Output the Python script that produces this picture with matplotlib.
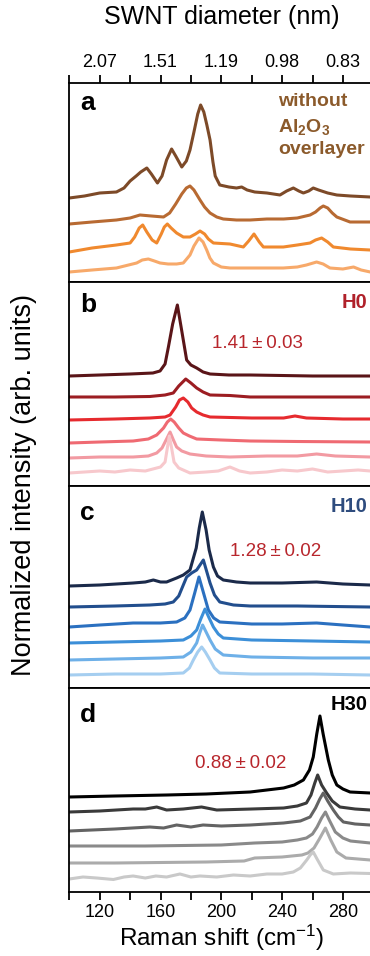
import matplotlib
matplotlib.use("Agg")
import matplotlib.pyplot as plt

plt.rcParams['font.family'] = ['Liberation Sans', 'DejaVu Sans']
plt.rcParams['mathtext.fontset'] = 'custom'
plt.rcParams['mathtext.rm'] = 'Liberation Sans'
plt.rcParams['mathtext.bf'] = 'Liberation Sans:bold'
plt.rcParams['mathtext.it'] = 'Liberation Sans:italic'

# ---- panel a : without Al2O3 overlayer (top curve first) ----
a1_x = [100, 110, 120, 131, 136, 140, 144, 147, 151, 154, 158, 161, 164, 167.3, 170, 174, 177, 179.4, 182, 184.5,
        186.4, 188.5, 190.5, 192.6, 194.5, 196, 199, 205, 210, 213.4, 217, 222, 230, 238.6, 243, 247.4, 251, 254,
        257.5, 260.5, 264, 270, 276, 285, 298]
a1_y = [84, 86, 89, 90, 94, 101, 106, 110, 114, 108, 99, 106, 122, 133, 126, 115, 121, 132, 150, 168,
        177, 170, 157, 142, 120, 106, 97, 95, 94, 95, 92, 90, 89, 87, 91, 94, 91, 89,
        91, 94, 92, 89, 87, 86, 85]
a2_x = [100, 115, 131, 140, 146.5, 154, 162, 166, 170, 174, 177, 179.4, 182, 186, 189, 192.6, 197, 201.3, 210, 219,
        230, 241, 250, 258.4, 262, 265, 267.1, 270, 273, 276, 284.7, 298]
a2_y = [58, 60, 62, 64, 67, 66, 65, 69, 78, 88, 94, 96, 92, 82, 75, 69, 65, 63, 62, 62,
        63, 63, 64, 67, 70, 74, 76, 74, 69, 65, 60, 60]
a3_x = [100, 115, 131, 140, 143, 146, 148.3, 151, 154.5, 157.5, 160.5, 162.5, 164.5, 167, 170.6, 175, 179.4, 183,
        186, 189, 191.5, 194.8, 205.7, 214.5, 218, 221.5, 225, 227.7, 240.8, 250, 258.4, 262, 266, 270, 273.7,
        285, 298]
a3_y = [30, 34, 37, 39, 45, 54, 57, 50, 42, 39, 48, 55, 58, 54, 49, 45, 45, 48,
        51, 48, 43, 39, 38, 35, 41, 48, 40, 35, 35, 37, 39, 42, 44, 40, 35,
        33, 32]
a4_x = [100, 115, 131, 144.3, 148, 152, 156, 159.7, 165, 170.6, 175, 179.4, 182, 185.3, 188, 190.4, 192.5, 194.8,
        200, 205.7, 220, 240.8, 250, 256, 262.7, 267, 271.5, 280, 287, 292, 298]
a4_y = [10, 12, 14, 19, 22, 23, 21, 19, 18, 18, 19, 27, 36, 44, 40, 32, 24, 19,
        15, 14, 14, 14, 15, 17, 20, 18, 14, 13, 15, 12, 10]

# ---- panel b : H0 ----
b1_x = [100, 120, 140, 155, 159.7, 163, 165.2, 168, 171.1, 174, 177.2, 180, 183.8, 188, 192.6, 205, 219, 240, 260,
        280, 298]
b1_y = [110, 111, 112, 113, 115, 122, 139, 162, 181, 155, 126, 121, 118, 114, 112, 111, 111, 110.5, 110,
        110, 110]
b2_x = [100, 130, 153, 163, 168.4, 172, 176.6, 180, 183.8, 188, 192.6, 205.7, 219, 250, 298]
b2_y = [89, 89, 89.5, 91, 93, 100, 107, 103, 98, 94, 91, 90.5, 89, 89, 89]
b3_x = [100, 130, 153, 163, 166.3, 170, 172.5, 175, 178, 180.5, 183.8, 188, 192.6, 220, 241, 248.5, 256, 280, 298]
b3_y = [66, 67, 68, 69, 71, 79, 86, 88, 84, 78, 74, 71, 69, 68, 68, 70, 68, 67, 67]
b4_x = [100, 120, 142, 152, 157.5, 162, 164.5, 166.7, 169, 172, 175, 179, 183.8, 200, 219, 250, 298]
b4_y = [43, 44, 45, 47, 51, 58, 64, 67, 64, 58, 53, 50, 47, 46, 45, 44.5, 44]
b5_x = [100, 120, 142, 152, 157.5, 161, 164, 166.3, 168.5, 170.6, 174, 179.4, 190, 205.7, 230, 250, 262.7, 275, 298]
b5_y = [28, 29, 29, 30, 33, 38, 47, 54, 46, 39, 35, 32, 30, 29, 30, 30, 32, 30, 29]
b6_x = [100, 110, 120, 130, 140, 150, 155, 160, 163, 164.5, 165.8, 167.3, 168.9, 172, 179.4, 190, 198, 205.7,
        212, 219, 230, 240, 250, 260, 270, 280, 290, 298]
b6_y = [13, 14, 15, 14, 16, 15, 17, 19, 24, 38, 50, 38, 24, 18, 13, 14, 15, 19,
        15, 13, 14, 16, 15, 17, 14, 15, 16, 15]

# ---- panel c : H10 ----
c1_x = [100, 120, 142, 150, 155.3, 160, 164, 170.6, 175, 179.4, 183.5, 185.5, 187.5, 190, 192, 194.8, 197.5, 201.3,
        210, 219, 240, 262.7, 280, 298]
c1_y = [102, 103, 105, 106, 108, 106, 106, 110, 113, 118, 140, 160, 176, 158, 138, 121, 112, 108,
        106, 105, 105, 106, 104, 103]
c2_x = [100, 130, 153, 163, 168.4, 172, 175, 177.2, 180.5, 183.8, 186, 188.2, 190.5, 192.6, 195.5, 199, 208, 219,
        250, 298]
c2_y = [81, 82, 83, 84, 86, 92, 103, 111, 115, 118, 123, 128, 116, 105, 93, 86, 83, 82, 82, 81]
c3_x = [100, 120, 142, 160, 170.6, 176, 179.4, 182.5, 185.3, 188.5, 191.5, 195, 199, 220, 240, 262.7, 280, 298]
c3_y = [61, 63, 65, 65, 66, 70, 78, 95, 111, 94, 78, 70, 66, 64, 64, 65, 63, 61]
c4_x = [100, 130, 160, 175, 180, 183.8, 186.5, 189.3, 192, 194.8, 198, 201.3, 220, 260, 298]
c4_y = [45, 46, 47, 48, 52, 58, 69, 79, 70, 61, 54, 50, 48, 47, 46]
c5_x = [100, 130, 160, 175, 180, 183.8, 185.8, 187.7, 190, 192.6, 196, 201.3, 220, 260, 298]
c5_y = [28, 29, 30, 31, 36, 45, 55, 63, 56, 48, 39, 33, 31, 30, 30]
c6_x = [100, 130, 160, 175, 179, 181.6, 184.5, 187.1, 189.5, 192.6, 195.5, 199, 220, 260, 298]
c6_y = [13, 14, 14, 15, 20, 28, 36, 41, 36, 28, 20, 15, 14, 14, 13]

# ---- panel d : H30 ----
d1_x = [100, 130, 164, 190, 219, 241, 248, 254, 258, 260.5, 262.8, 264.9, 267, 270.4, 273, 276, 280, 284.7, 298]
d1_y = [95, 96, 97, 98, 100, 104, 107, 112, 122, 135, 158, 176, 158, 132, 117, 107, 103, 100, 99]
d2_x = [100, 120, 142, 150, 157.5, 164, 175, 187, 197, 220, 241, 250, 256, 259, 261.5, 263.4, 266, 269.3, 273,
        278, 288, 298]
d2_y = [80, 81, 83, 83, 85, 82, 83, 85, 82, 83, 84, 86, 89, 97, 109, 117, 107, 99, 91, 85, 83, 82]
d3_x = [100, 130, 153, 162, 170.6, 180, 188, 200, 219, 241, 252, 258.4, 262, 264.8, 267.1, 270, 273.7, 277,
        280.3, 288, 298]
d3_y = [61, 63, 65, 64, 67, 65, 67, 66, 67, 69, 71, 75, 84, 93, 99, 91, 82, 75, 70, 68, 67]
d4_x = [100, 150, 200, 222, 240, 250, 256, 260, 263, 266, 268.5, 271, 275, 280, 285, 298]
d4_y = [46, 46, 47, 49, 50, 52, 54, 58, 65, 74, 80, 72, 60, 54, 51, 49]
d5_x = [100, 130, 160, 190, 215, 222, 240, 253, 257, 261, 264.5, 268.5, 272, 276, 282, 290, 298]
d5_y = [29, 29, 29.5, 30, 31, 34, 35, 37, 39, 44, 53, 64, 52, 40, 34, 33, 32]
d6_x = [100, 109, 118, 129, 136, 142, 150, 157, 164, 172.8, 180, 186, 197, 208, 219, 230, 240, 247.4, 252, 256.2,
        258.5, 260.5, 263, 267.1, 273.7, 285, 298]
d6_y = [13, 15, 14, 12.5, 15, 16, 14, 16, 15, 18, 15, 16, 15, 17, 16, 18, 18, 20, 24, 32,
        37, 40, 33, 22, 18, 19, 18.5]

raman_ticks = [120, 160, 200, 240, 280]
diam_labels = ['2.07', '1.51', '1.19', '0.98', '0.83']

colors_a = ['#7d4a28', '#b86a32', '#f0892e', '#f7a96a']
colors_b = ['#5a1518', '#9c1d22', '#e62a2e', '#ef6a72', '#f29aa2', '#f7c8cc']
colors_c = ['#1b2a4a', '#224e8d', '#2b70c0', '#3c8fd8', '#6eb0e8', '#a5cef0']
colors_d = ['#000000', '#3a3a3a', '#636363', '#8a8a8a', '#ababab', '#c9c9c9']

panels = [
    ([(a1_x, a1_y), (a2_x, a2_y), (a3_x, a3_y), (a4_x, a4_y)], colors_a),
    ([(b1_x, b1_y), (b2_x, b2_y), (b3_x, b3_y), (b4_x, b4_y), (b5_x, b5_y), (b6_x, b6_y)], colors_b),
    ([(c1_x, c1_y), (c2_x, c2_y), (c3_x, c3_y), (c4_x, c4_y), (c5_x, c5_y), (c6_x, c6_y)], colors_c),
    ([(d1_x, d1_y), (d2_x, d2_y), (d3_x, d3_y), (d4_x, d4_y), (d5_x, d5_y), (d6_x, d6_y)], colors_d),
]

W, H = 370, 956
fig = plt.figure(figsize=(W / 100, H / 100), dpi=100)
edges = [83, 282, 486, 688, 892]
left, right = 69.3, 373.3

axes = []
for i, (curves, cols) in enumerate(panels):
    top, bot = edges[i], edges[i + 1]
    ax = fig.add_axes([left / W, 1 - bot / H, (right - left) / W, (bot - top) / H])
    for (x, y), c in zip(curves, cols):
        ax.plot(x, y, color=c, lw=2.2, solid_joinstyle='round', solid_capstyle='round')
    ax.set_xlim(100, 300)
    ax.set_ylim(0, bot - top)
    ax.set_yticks([])
    for s in ax.spines.values():
        s.set_linewidth(1.3)
    ax.tick_params(axis='x', direction='out', length=5.8, width=1.3, labelsize=13, pad=3)
    axes.append(ax)

ticks = list(range(100, 300, 20))

# top axis: SWNT diameter
ax = axes[0]
ax.xaxis.tick_top()
ax.set_xticks(ticks)
ax.set_xticklabels([diam_labels[raman_ticks.index(t)] if t in raman_ticks else '' for t in ticks])
for ax in axes[1:3]:
    ax.set_xticks([])
ax = axes[3]
ax.set_xticks(ticks)
ax.set_xticklabels([str(t) if t in raman_ticks else '' for t in ticks])

fig.text(222 / W, 1 - 17 / H, 'SWNT diameter (nm)', ha='center', va='center', fontsize=18)
fig.text(222 / W, 1 - 938 / H, 'Raman shift (cm$^{-1}$)', ha='center', va='center', fontsize=17.5)
fig.text(24 / W, 1 - 485 / H, 'Normalized intensity (arb. units)', ha='center', va='center',
         rotation=90, fontsize=19.5)

# panel letters
for ax, letter, y in zip(axes, 'abcd', [179, 181, 175, 177]):
    ax.text(107, y, letter, fontsize=19, fontweight='bold', ha='left', va='center')

brown = '#8b5a2b'
axes[0].text(237.3, 180, 'without', color=brown, fontsize=14, fontweight='bold', va='center')
axes[0].text(237.3, 155, r'$\mathbf{Al_2O_3}$', color=brown, fontsize=14, va='center')
axes[0].text(237.3, 132, 'overlayer', color=brown, fontsize=14, fontweight='bold', va='center')

axes[1].text(296, 183, 'H0', color='#b0212a', fontsize=14.5, fontweight='bold', ha='right', va='center')
axes[2].text(296.5, 181, 'H10', color='#2e4c7e', fontsize=14.5, fontweight='bold', ha='right', va='center')
axes[3].text(296, 187, 'H30', color='black', fontsize=14.5, fontweight='bold', ha='right', va='center')

red = '#b8262c'
axes[1].text(193.9, 143, '1.41\u2009\u00b1\u20090.03', color=red, fontsize=13.5, va='center')
axes[2].text(205.7, 136, '1.28\u2009\u00b1\u20090.02', color=red, fontsize=13.5, va='center')
axes[3].text(182.7, 129, '0.88\u2009\u00b1\u20090.02', color=red, fontsize=13.5, va='center')

fig.savefig('out.png', dpi=100)
